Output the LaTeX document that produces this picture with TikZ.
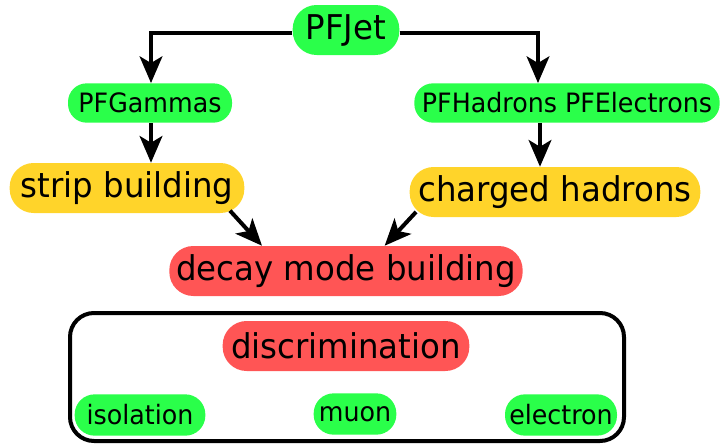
\documentclass[tikz,border=0pt]{standalone}
\usepackage{fontspec}
\setmainfont{DejaVu Sans}[FakeStretch=0.95]
\usetikzlibrary{arrows.meta,calc}
\definecolor{pfgreen}{RGB}{42,255,74}
\definecolor{pfyellow}{RGB}{255,212,42}
\definecolor{pfred}{RGB}{255,85,85}
\tikzset{
  pill/.style={inner sep=0pt, align=center, text=black},
  big/.style={pill, rounded corners=18pt, font=\fontsize{25.6pt}{29pt}\selectfont, minimum height=37.5pt},
  small/.style={pill, rounded corners=14pt, font=\fontsize{20pt}{23pt}\selectfont, minimum height=29.5pt},
  link/.style={line width=3pt, -{Stealth[length=20pt,width=17pt,inset=5pt]}},
  frame/.style={line width=3pt, rounded corners=18pt}
}
\begin{document}
\begin{tikzpicture}[x=0.75pt,y=-0.75pt]
\useasboundingbox (0,0) rectangle (721,443);
% particle-flow inputs
\node[big, fill=pfgreen, minimum width=80pt] (jet) at (346,30) {PFJet};
\node[small, fill=pfgreen, minimum width=123pt] (gam) at (150,103) {PFGammas};
\node[small, fill=pfgreen, minimum width=229pt] (had) at (567,103) {PFHadrons PFElectrons};
% building steps
\node[big, fill=pfyellow, minimum width=176pt] (strip) at (127,188) {strip building};
\node[big, fill=pfyellow, minimum width=218pt] (chg) at (555,192) {charged hadrons};
\node[big, fill=pfred, minimum width=265pt] (decay) at (346,271) {decay mode building};
% discrimination group
\draw[frame] (70,313) rectangle (624,441);
\node[big, fill=pfred, minimum width=185pt] (disc) at (346,346) {discrimination};
\node[small, fill=pfgreen, minimum width=98pt, minimum height=31pt, rounded corners=15pt] (iso) at (140,415) {isolation};
\node[small, fill=pfgreen, minimum width=62pt, minimum height=31pt, rounded corners=15pt] (muon) at (355,414) {muon};
\node[small, fill=pfgreen, minimum width=84pt, minimum height=31pt, rounded corners=15pt] (ele) at (561,415) {electron};
% connectors
\coordinate (jl) at ([yshift=-2.25pt]jet.west);
\coordinate (jr) at ([yshift=-2.25pt]jet.east);
\coordinate (hadin) at ([xshift=-21.75pt]had.north);
\coordinate (hadout) at ([xshift=-20.25pt]had.south);
\draw[link] (jl) -| ([xshift=0.75pt]gam.north);
\draw[link] (jr) -| (hadin);
\draw[link] ([xshift=0.75pt]gam.south) -- ([xshift=0.75pt]gam.south |- strip.north);
\draw[link] (hadout) -- (hadout |- chg.north);
\draw[link] ([xshift=-11pt,yshift=2pt]strip.south east) -- ([xshift=-63pt]decay.north);
\draw[link] ([xshift=5pt,yshift=4pt]chg.south west) -- ([xshift=29pt]decay.north);
\end{tikzpicture}
\end{document}
